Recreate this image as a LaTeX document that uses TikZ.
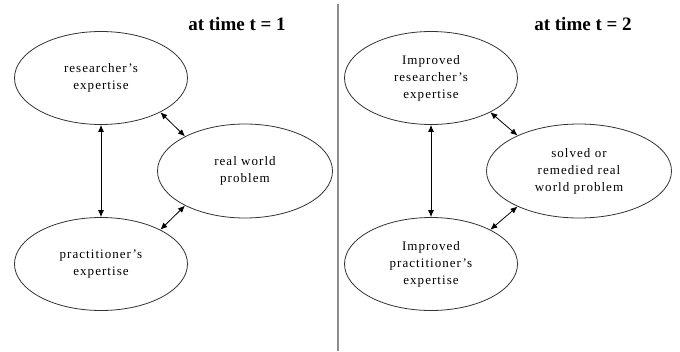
\documentclass[tikz,border=0pt]{standalone}
\usepackage{fontspec}
\setmainfont{Liberation Serif}
\newfontfamily\bubblefont[LetterSpace=8]{Liberation Serif}
\usetikzlibrary{shapes.geometric,arrows.meta}

\begin{document}
\begin{tikzpicture}[x=1pt,y=-1pt,>={Latex[length=7pt,width=6pt]}]
\tikzstyle{bubble}=[ellipse,draw=black!80,line width=0.8pt,inner sep=0pt,align=center,font=\bubblefont\fontsize{13}{17}\selectfont]
\tikzstyle{smallb}=[bubble,minimum width=173pt,minimum height=93pt]
\tikzstyle{wideb}=[bubble,minimum width=175pt,minimum height=94pt]
\tikzstyle{title}=[font=\bfseries\fontsize{19}{22}\selectfont]
\tikzstyle{link}=[<->,line width=0.8pt]
\useasboundingbox (0,0) rectangle (680,351);
% divider
\coordinate (top) at (338,4);
\coordinate (bot) at (338,351);
\draw [black!45,line width=2pt] (top) -- (bot);
% t = 1
\node [title] (t1) at (237,24) {at time t = 1};
\node [smallb] (res1) at (101,78) {researcher’s\\expertise};
\node [wideb] (prob1) at (245,171) {real world\\problem};
\node [smallb] (prac1) at (101,264) {practitioner’s\\expertise};
\draw [link] (res1.south) -- (prac1.north);
\draw [link] (res1.-30) -- (prob1.150);
\draw [link] (prac1.30) -- (prob1.210);
% t = 2
\node [title] (t2) at (583,24) {at time t = 2};
\node [smallb] (res2) at (431,78) {Improved\\researcher’s\\expertise};
\node [wideb,minimum width=185pt] (prob2) at (579,171) {solved or\\remedied real\\world problem};
\node [smallb] (prac2) at (431,264) {Improved\\practitioner’s\\expertise};
\draw [link] (res2.south) -- (prac2.north);
\draw [link] (res2.-30) -- (prob2.150);
\draw [link] (prac2.30) -- (prob2.210);
\end{tikzpicture}
\end{document}
